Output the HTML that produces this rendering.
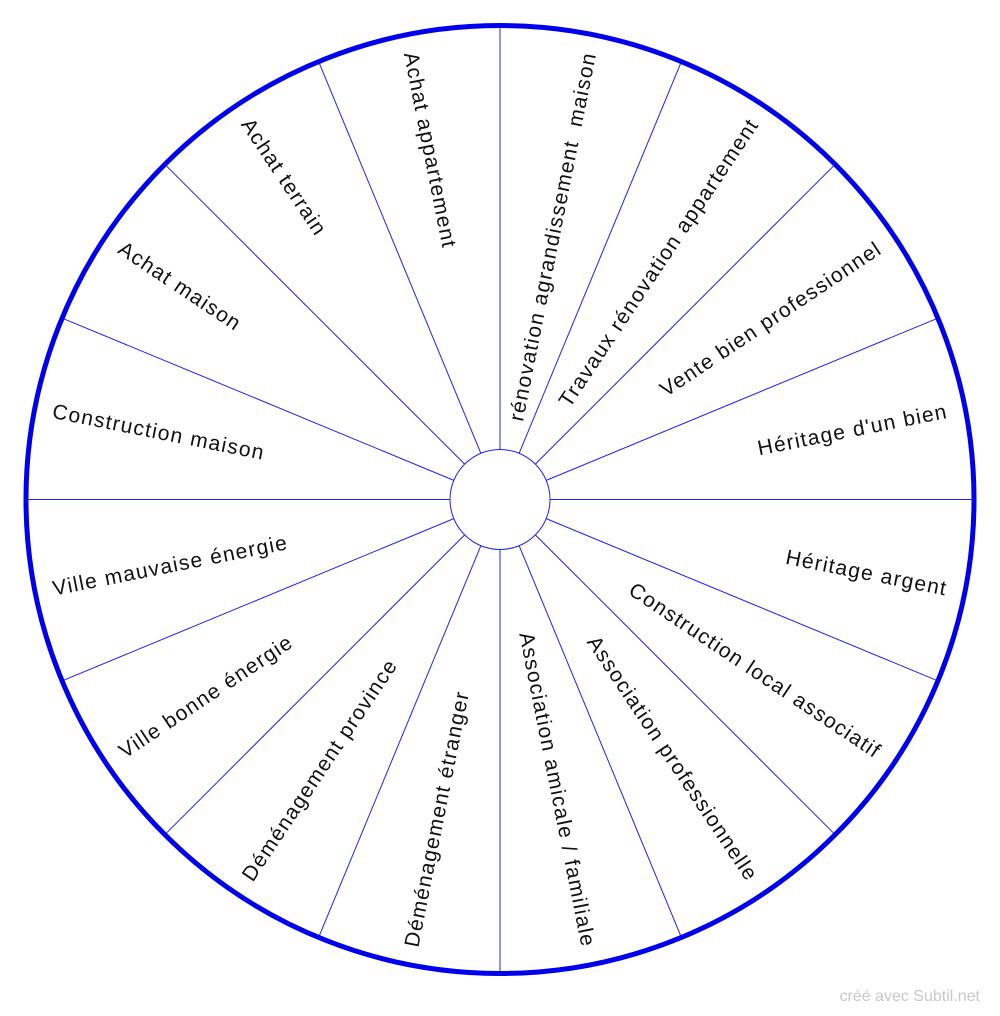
<!DOCTYPE html>
<html><head><meta charset="utf-8"><style>
html,body{margin:0;padding:0;background:#fff;}
svg{display:block;}
text{font-family:"Liberation Sans",sans-serif;font-size:21px;letter-spacing:1.3px;fill:#111;}
</style></head><body>
<svg width="1000" height="1016" viewBox="0 0 1000 1016" xmlns="http://www.w3.org/2000/svg">
<g stroke="#2020ff" stroke-width="1">
<line x1="500" y1="449.5" x2="500" y2="26" transform="rotate(0 500 499.5)"/>
<line x1="500" y1="449.5" x2="500" y2="26" transform="rotate(22.5 500 499.5)"/>
<line x1="500" y1="449.5" x2="500" y2="26" transform="rotate(45 500 499.5)"/>
<line x1="500" y1="449.5" x2="500" y2="26" transform="rotate(67.5 500 499.5)"/>
<line x1="500" y1="449.5" x2="500" y2="26" transform="rotate(90 500 499.5)"/>
<line x1="500" y1="449.5" x2="500" y2="26" transform="rotate(112.5 500 499.5)"/>
<line x1="500" y1="449.5" x2="500" y2="26" transform="rotate(135 500 499.5)"/>
<line x1="500" y1="449.5" x2="500" y2="26" transform="rotate(157.5 500 499.5)"/>
<line x1="500" y1="449.5" x2="500" y2="26" transform="rotate(180 500 499.5)"/>
<line x1="500" y1="449.5" x2="500" y2="26" transform="rotate(202.5 500 499.5)"/>
<line x1="500" y1="449.5" x2="500" y2="26" transform="rotate(225 500 499.5)"/>
<line x1="500" y1="449.5" x2="500" y2="26" transform="rotate(247.5 500 499.5)"/>
<line x1="500" y1="449.5" x2="500" y2="26" transform="rotate(270 500 499.5)"/>
<line x1="500" y1="449.5" x2="500" y2="26" transform="rotate(292.5 500 499.5)"/>
<line x1="500" y1="449.5" x2="500" y2="26" transform="rotate(315 500 499.5)"/>
<line x1="500" y1="449.5" x2="500" y2="26" transform="rotate(337.5 500 499.5)"/>
<circle cx="500" cy="499.5" r="50" fill="none"/>
</g>
<circle cx="500" cy="499.5" r="474" fill="none" stroke="#0000ee" stroke-width="5"/>
<g>
<text xml:space="preserve" x="956" y="499.5" dy="0.35em" text-anchor="end" transform="rotate(-78.75 500 499.5)">rénovation agrandissement  maison</text>
<text x="956" y="499.5" dy="0.35em" text-anchor="end" transform="rotate(-56.25 500 499.5)">Travaux rénovation appartement</text>
<text x="956" y="499.5" dy="0.35em" text-anchor="end" transform="rotate(-33.75 500 499.5)">Vente bien professionnel</text>
<text x="956" y="499.5" dy="0.35em" text-anchor="end" transform="rotate(-11.25 500 499.5)">Héritage d'un bien</text>
<text x="956" y="499.5" dy="0.35em" text-anchor="end" transform="rotate(11.25 500 499.5)">Héritage argent</text>
<text x="956" y="499.5" dy="0.35em" text-anchor="end" transform="rotate(33.75 500 499.5)">Construction local associatif</text>
<text x="956" y="499.5" dy="0.35em" text-anchor="end" transform="rotate(56.25 500 499.5)">Association professionnelle</text>
<text x="956" y="499.5" dy="0.35em" text-anchor="end" transform="rotate(78.75 500 499.5)">Association amicale / familiale</text>
<text x="44" y="499.5" dy="0.35em" text-anchor="start" transform="rotate(281.25 500 499.5)">Déménagement étranger</text>
<text x="44" y="499.5" dy="0.35em" text-anchor="start" transform="rotate(303.75 500 499.5)">Déménagement province</text>
<text x="44" y="499.5" dy="0.35em" text-anchor="start" transform="rotate(326.25 500 499.5)">Ville bonne énergie</text>
<text x="44" y="499.5" dy="0.35em" text-anchor="start" transform="rotate(348.75 500 499.5)">Ville mauvaise énergie</text>
<text x="44" y="499.5" dy="0.35em" text-anchor="start" transform="rotate(11.25 500 499.5)">Construction maison</text>
<text x="44" y="499.5" dy="0.35em" text-anchor="start" transform="rotate(33.75 500 499.5)">Achat maison</text>
<text x="44" y="499.5" dy="0.35em" text-anchor="start" transform="rotate(56.25 500 499.5)">Achat terrain</text>
<text x="44" y="499.5" dy="0.35em" text-anchor="start" transform="rotate(78.75 500 499.5)">Achat appartement</text>
</g>
<text x="980" y="1001" text-anchor="end" style="font-size:16px;fill:#c8c8c8;letter-spacing:0;">créé avec Subtil.net</text>
</svg>
</body></html>
